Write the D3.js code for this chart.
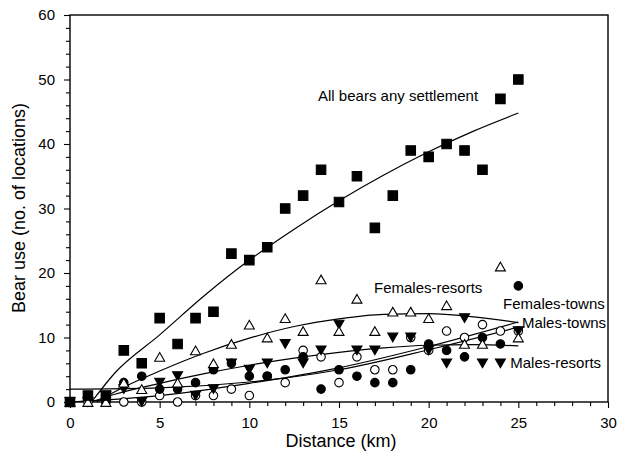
<!DOCTYPE html>
<html><head><meta charset="utf-8">
<script src="https://cdn.jsdelivr.net/npm/d3@7"></script>
<style>
html,body{margin:0;padding:0;background:#fff;}
svg{display:block;font-family:"Liberation Sans",Arial,sans-serif;}
</style>
</head><body>
<svg id="chart" width="617" height="456"></svg>
<script>
// ---- data ----
const distance       = [0,1,2,3,4,5,6,7,8,9,10,11,12,13,14,15,16,17,18,19,20,21,22,23,24,25];
const allBears       = [0,1,1,8,6,13,9,13,14,23,22,24,30,32,36,31,35,27,32,39,38,40,39,36,47,50];
const femalesResorts = [0,0,0,3,2,7,3,8,6,9,12,10,13,11,19,11,16,11,14,14,13,15,9,9,21,10];
const malesResorts   = [0,0,1,2,0,3,4,1,2,6,5,6,9,6,8,12,8,8,10,10,8,6,13,6,6,11];
const femalesTowns   = [0,1,0,3,4,2,2,3,5,6,4,4,5,7,2,5,4,3,3,5,9,8,7,10,9,18];
const malesTowns     = [0,0,0,0,0,1,0,1,1,2,1,4,3,8,7,3,7,5,5,10,8,11,10,12,11,11];

// fitted curves, values
const fitAllX = [1.2,2.5,5,7.5,10,12.5,15,17.5,20,22.5,25];
const fitAllY = [0,4.5,10.4,16.5,22,26.8,31.2,35.2,38.8,42,44.8];
const fitFRX  = [1.5,2.5,5,7.5,10,12.5,15,17.5,20,22.5,25];
const fitFRY  = [0,1.6,4.8,7.6,9.9,11.7,12.9,13.6,13.7,13.2,12.3];
const fitMRX  = [1.2,2.5,5,7.5,10,12.5,15,17.5,20,22.5,25];
const fitMRY  = [0,1.2,2.9,4.4,5.7,6.8,7.7,8.4,8.8,8.9,8.7];
const fitFTX  = [0,5,10,15,20,25];
const fitFTY  = [2,2.2,3.1,5.0,8.1,11.6];
const fitMTX  = [0,5,10,15,20,25];
const fitMTY  = [0,1.0,2.9,5.3,8.6,12.4];

const xTicks = [0,5,10,15,20,25,30];
const yTicks = [0,10,20,30,40,50,60];
const xMinor = [1,2,3,4,6,7,8,9,11,12,13,14,16,17,18,19,21,22,23,24,26,27,28,29];
const yMinor = [2,4,6,8,12,14,16,18,22,24,26,28,32,34,36,38,42,44,46,48,52,54,56,58];

const labelTexts = ["All bears any settlement","Females-resorts","Females-towns","Males-towns","Males-resorts"];
const labelAt = [[13.83,46.7],[16.95,16.9],[24.15,14.4],[25.2,11.5],[24.55,5.3]];

// ---- drawing ----
const svg = d3.select("#chart");
svg.append("rect").attr("width",617).attr("height",456).attr("fill","#fff");

const x = d3.scaleLinear().domain([0,30]).range([70,608]);
const y = d3.scaleLinear().domain([0,60]).range([402,15]);

// axes
const gL = svg.append("g").attr("transform","translate(70,0)");
gL.call(d3.axisLeft(y).tickValues(yMinor).tickSize(4).tickFormat(""));
gL.append("g").call(d3.axisLeft(y).tickValues(yTicks).tickSize(6).tickPadding(9));
const gB = svg.append("g").attr("transform","translate(0,402)");
gB.call(d3.axisBottom(x).tickValues(xMinor).tickSize(4).tickFormat(""));
gB.append("g").call(d3.axisBottom(x).tickValues(xTicks).tickSize(6).tickPadding(9));
svg.selectAll(".domain").remove();
svg.selectAll(".tick line").attr("stroke","#000").attr("stroke-width",1.1);
svg.selectAll(".tick text").attr("font-size",15).attr("fill","#000")
   .attr("font-family","'Liberation Sans',Arial,sans-serif");

svg.append("rect").attr("x",70).attr("y",15).attr("width",538).attr("height",387)
   .attr("fill","none").attr("stroke","#000").attr("stroke-width",1.4);

// titles
svg.append("text").attr("x",341).attr("y",447).attr("text-anchor","middle")
   .attr("font-size",18).text("Distance (km)");
svg.append("text").attr("transform","translate(19,208) rotate(-90)").attr("dy","0.35em")
   .attr("text-anchor","middle").attr("font-size",18).text("Bear use (no. of locations)");

// fit lines
const line = d3.line().x(d=>x(d[0])).y(d=>y(d[1])).curve(d3.curveMonotoneX);
const fits = [[fitAllX,fitAllY],[fitFRX,fitFRY],[fitMRX,fitMRY],[fitFTX,fitFTY],[fitMTX,fitMTY]];
fits.forEach(([fx,fy])=>{
  svg.append("path").attr("d", line(fx.map((v,i)=>[v,fy[i]])))
     .attr("fill","none").attr("stroke","#000").attr("stroke-width",1.2);
});

// marker shapes (bbox centred)
const triUp = {draw(c,s){const h=s*0.866; c.moveTo(0,-h/2); c.lineTo(s/2,h/2); c.lineTo(-s/2,h/2); c.closePath();}};
const triDown = {draw(c,s){const h=s*0.866; c.moveTo(0,h/2); c.lineTo(s/2,-h/2); c.lineTo(-s/2,-h/2); c.closePath();}};
const sq = {draw(c,s){c.rect(-s/2,-s/2,s,s);}};
const circ = {draw(c,s){c.moveTo(s/2,0); c.arc(0,0,s/2,0,2*Math.PI);}};

function drawSeries(vals, type, size, fill){
  svg.append("g").selectAll("path").data(vals).join("path")
    .attr("transform",(v,i)=>`translate(${x(distance[i])},${y(v)})`)
    .attr("d", d3.symbol().type(type).size(size)())
    .attr("fill", fill).attr("stroke","#000").attr("stroke-width",1.1);
}
drawSeries(malesTowns, circ, 8.5, "#fff");
drawSeries(femalesTowns, circ, 8.5, "#000");
drawSeries(malesResorts, triDown, 10, "#000");
drawSeries(femalesResorts, triUp, 10, "#fff");
drawSeries(allBears, sq, 9.5, "#000");

// labels
svg.append("g").selectAll("text").data(labelTexts).join("text")
  .attr("x",(t,i)=>x(labelAt[i][0])).attr("y",(t,i)=>y(labelAt[i][1]))
  .attr("font-size",15).attr("fill","#000").text(t=>t);
</script>
</body></html>
